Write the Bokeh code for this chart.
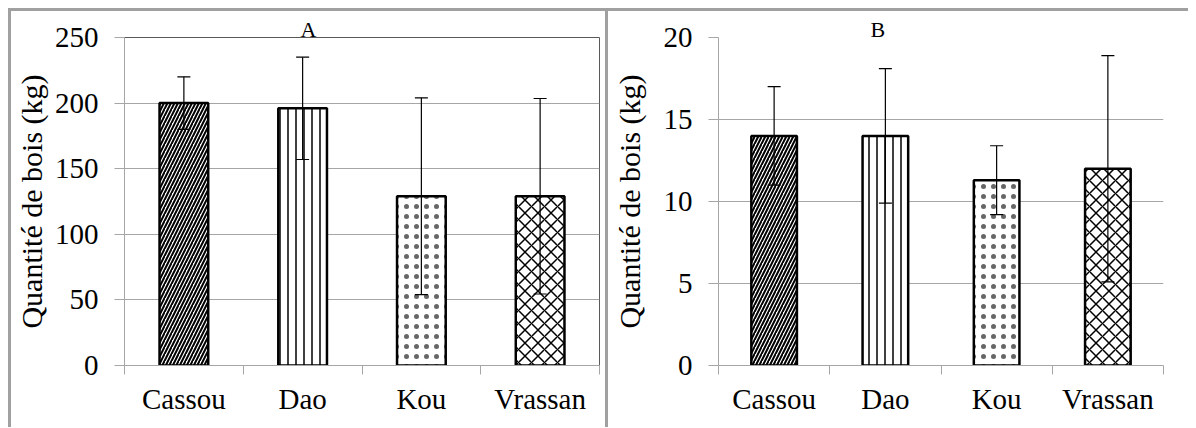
from bokeh.plotting import figure
from bokeh.layouts import row
from bokeh.models import ColumnDataSource, FixedTicker, Whisker, Range1d, TeeHead, Spacer
from bokeh.embed import file_html
from bokeh.resources import INLINE

# ---- data ----
categories = ["Cassou", "Dao", "Kou", "Vrassan"]
a_values = [200, 196, 129, 129]
a_errors = [20, 39, 75, 74.5]
b_values = [14.0, 14.0, 11.3, 12.0]
b_errors = [3.0, 4.1, 2.1, 6.9]
a_yticks = [0, 50, 100, 150, 200, 250]
b_yticks = [0, 5, 10, 15, 20]

# ---- styles ----
hatches = ["/", "|", ".", "x"]
hatch_scales = [7, 8, 10, 13]
hatch_weights = [2.0, 1.5, 0.7, 1.5]
hatch_alphas = [1.0, 1.0, 0.6, 1.0]
FONT = "Liberation Serif"
GRID = "#a6a6a6"
BORDER = "3px solid #a0a0a0"


def panel(title, values, errors, yticks, width, height, mb_left, mb_right,
          mb_top, mb_bottom, styles, outline, title_offset, label_standoff):
    n = len(categories)
    centers = [i + 0.5 for i in range(n)]
    src = ColumnDataSource(dict(
        x=centers, top=values,
        upper=[v + e for v, e in zip(values, errors)],
        lower=[v - e for v, e in zip(values, errors)],
        hatch=hatches, hscale=hatch_scales, hweight=hatch_weights,
        halpha=hatch_alphas))
    p = figure(width=width, height=height, output_backend="svg",
               toolbar_location=None, x_range=Range1d(0, n),
               y_range=Range1d(yticks[0], yticks[-1]),
               min_border_left=mb_left, min_border_right=mb_right,
               min_border_top=mb_top, min_border_bottom=mb_bottom,
               styles=styles)
    p.vbar(x="x", top="top", width=0.41, source=src, fill_color="white",
           line_color="black", line_width=2.5, hatch_pattern="hatch",
           hatch_color="black", hatch_scale="hscale", hatch_weight="hweight",
           hatch_alpha="halpha")
    w = Whisker(base="x", upper="upper", lower="lower", source=src,
                line_color="black", line_width=1.2, level="overlay",
                upper_head=TeeHead(size=13, line_color="black", line_width=1.2),
                lower_head=TeeHead(size=13, line_color="black", line_width=1.2))
    p.add_layout(w)

    p.outline_line_color = outline
    p.xgrid.grid_line_color = None
    p.ygrid.grid_line_color = GRID
    p.ygrid.ticker = FixedTicker(ticks=yticks)

    ya = p.yaxis[0]
    ya.ticker = FixedTicker(ticks=yticks)
    ya.axis_line_color = GRID
    ya.major_tick_line_color = GRID
    ya.major_tick_out = 10
    ya.major_tick_in = 0
    ya.minor_tick_line_color = None
    ya.major_label_text_font = FONT
    ya.major_label_text_font_size = "29px"
    ya.major_label_text_color = "black"
    ya.major_label_standoff = 16
    ya.axis_label = "Quantité de bois (kg)"
    ya.axis_label_text_font = FONT
    ya.axis_label_text_font_size = "30px"
    ya.axis_label_text_font_style = "normal"
    ya.axis_label_text_color = "black"
    ya.axis_label_standoff = label_standoff

    xa = p.xaxis[0]
    xa.ticker = FixedTicker(ticks=centers, minor_ticks=list(range(n + 1)))
    xa.major_label_overrides = {c: lab for c, lab in zip(centers, categories)}
    xa.axis_line_color = GRID
    xa.major_tick_line_color = None
    xa.major_tick_out = 0
    xa.major_tick_in = 0
    xa.minor_tick_line_color = GRID
    xa.minor_tick_out = 9
    xa.minor_tick_in = 0
    xa.major_label_text_font = FONT
    xa.major_label_text_font_size = "29px"
    xa.major_label_text_color = "black"
    xa.major_label_standoff = 8

    p.title.text = title
    p.title.align = "left"
    p.title.offset = title_offset
    p.title.standoff = -9
    p.title.text_font = FONT
    p.title.text_font_size = "22px"
    p.title.text_font_style = "normal"
    p.title.text_color = "black"
    return p


p1 = panel("A", a_values, a_errors, a_yticks, 600, 419, 112, 12, 24, 65,
           {"border-left": BORDER, "border-right": BORDER, "border-top": BORDER},
           "#595959", 176, 4)
p2 = panel("B", b_values, b_errors, b_yticks, 580, 419, 110, 25, 26, 64,
           {"border-top": BORDER}, None, 152, 15)

layout = row(Spacer(width=8, height=10), p1, p2, styles={"margin-top": "8px"})
open("out.html", "w").write(file_html(layout, INLINE))
